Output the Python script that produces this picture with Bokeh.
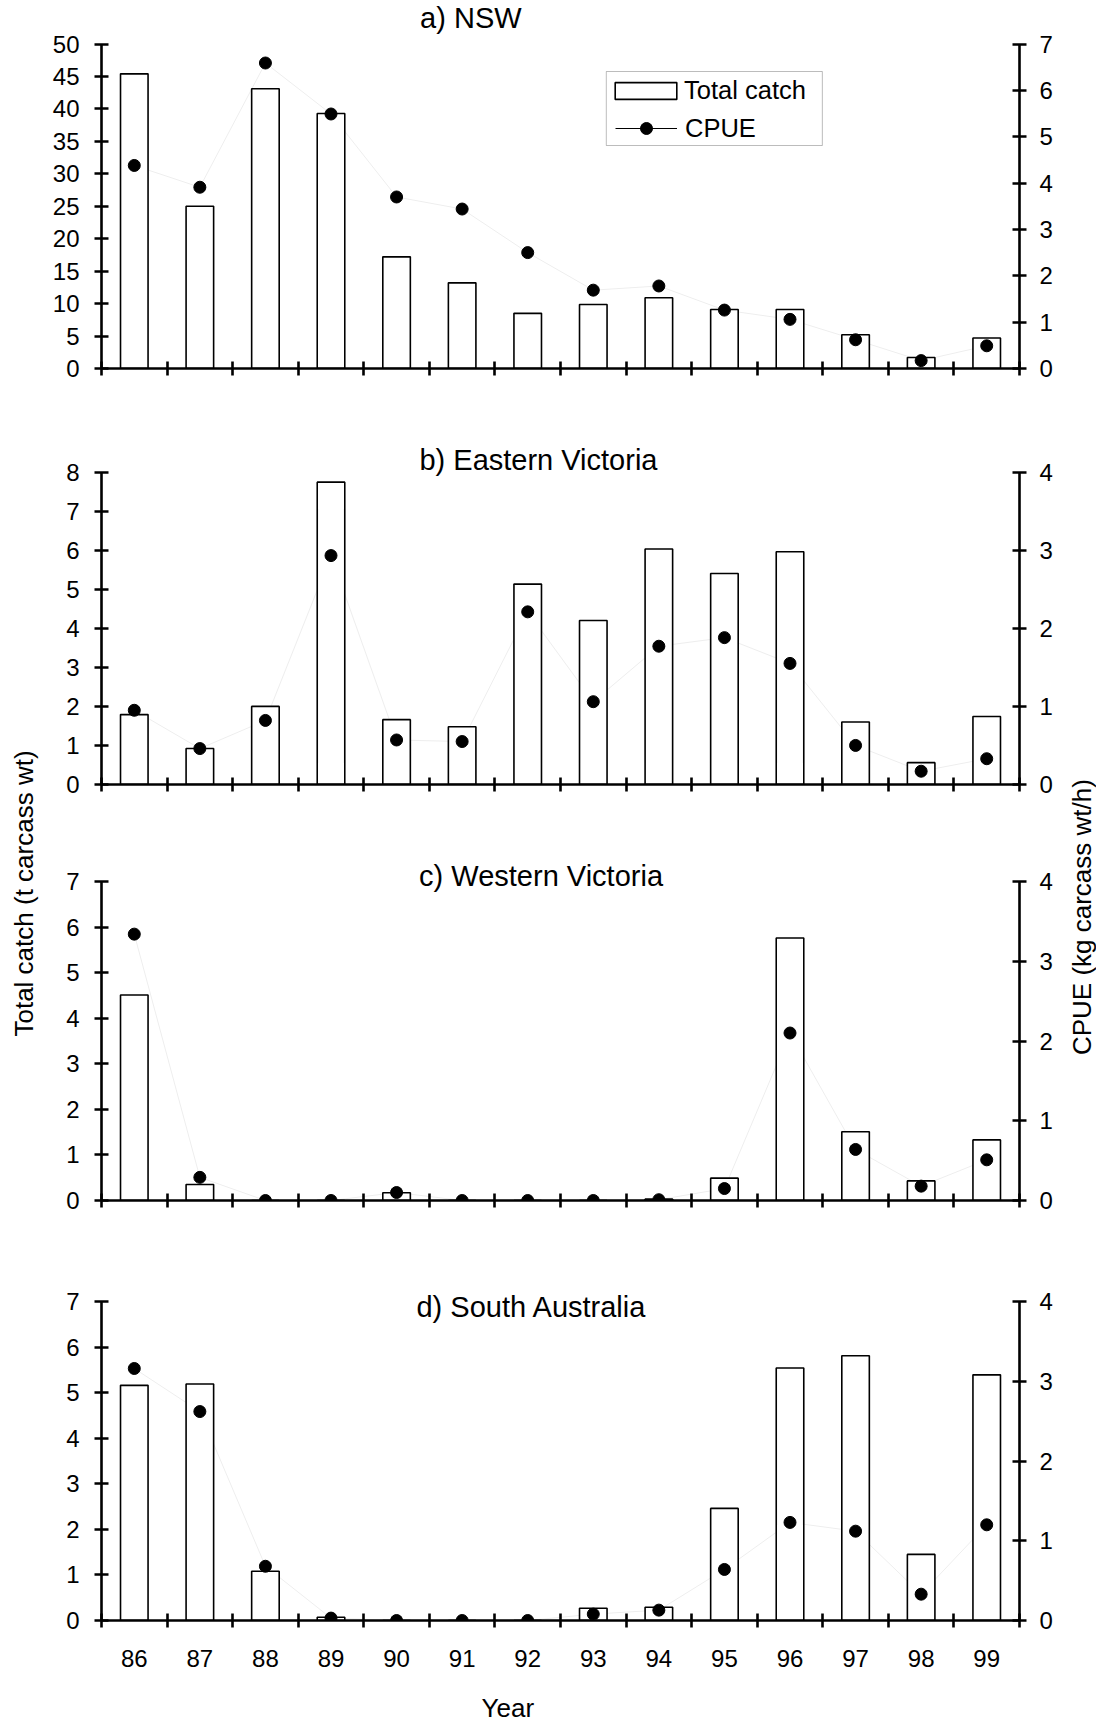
import math
from bokeh.plotting import figure
from bokeh.models import (Range1d, LinearAxis, FixedTicker, Label, Legend, LegendItem,
                          BoxAnnotation)
from bokeh.layouts import row, column
from bokeh.embed import file_html
from bokeh.resources import INLINE

# ---------------- data ----------------
years = [86, 87, 88, 89, 90, 91, 92, 93, 94, 95, 96, 97, 98, 99]

nsw_catch = [45.4, 25.0, 43.1, 39.3, 17.2, 13.2, 8.5, 9.85, 10.9, 9.1, 9.1, 5.2, 1.7, 4.7]
nsw_cpue = [4.38, 3.91, 6.59, 5.49, 3.70, 3.44, 2.50, 1.69, 1.78, 1.26, 1.06, 0.62, 0.17, 0.49]

evic_catch = [1.79, 0.92, 2.0, 7.74, 1.66, 1.48, 5.13, 4.20, 6.03, 5.40, 5.96, 1.60, 0.56, 1.74]
evic_cpue = [0.95, 0.46, 0.82, 2.93, 0.57, 0.55, 2.21, 1.06, 1.77, 1.88, 1.55, 0.50, 0.17, 0.33]

wvic_catch = [4.51, 0.35, 0.0, 0.0, 0.17, 0.0, 0.0, 0.0, 0.03, 0.49, 5.76, 1.51, 0.43, 1.33]
wvic_cpue = [3.34, 0.29, 0.0, 0.0, 0.10, 0.0, 0.0, 0.0, 0.01, 0.15, 2.10, 0.64, 0.18, 0.51]

sa_catch = [5.16, 5.19, 1.08, 0.07, 0.0, 0.0, 0.0, 0.27, 0.29, 2.46, 5.54, 5.81, 1.45, 5.39]
sa_cpue = [3.16, 2.62, 0.68, 0.03, 0.0, 0.0, 0.0, 0.08, 0.13, 0.64, 1.23, 1.12, 0.33, 1.20]

titles = ["a) NSW", "b) Eastern Victoria", "c) Western Victoria", "d) South Australia"]
left_label = "Total catch (t carcass wt)"
right_label = "CPUE (kg  carcass wt/h)"
x_label = "Year"
legend_labels = ["Total catch", "CPUE"]

# ---------------- styling / layout ----------------
FONT = "Liberation Sans"
TICK_FS = "24px"
TITLE_FS = "29px"
LABEL_FS = "26px"
LEGEND_FS = "25.5px"
TOTAL_W, TOTAL_H = 1096, 1724
LEFT_W, RIGHT_W = 40, 28
PANEL_W = TOTAL_W - LEFT_W - RIGHT_W
YEAR_H = 44
AX_W = 2.6
N = len(years)


def style_axis(ax, standoff):
    ax.axis_line_width = AX_W
    ax.axis_line_color = "black"
    ax.major_tick_line_width = AX_W
    ax.major_tick_line_color = "black"
    ax.major_tick_in = 7
    ax.major_tick_out = 7
    ax.minor_tick_line_color = None
    ax.major_label_text_font = FONT
    ax.major_label_text_font_size = TICK_FS
    ax.major_label_text_color = "black"
    ax.major_label_standoff = standoff
    ax.axis_label_standoff = 0


def panel(idx, catch, cpue, ymax, ystep, y2max, canvas_top, canvas_bottom,
          frame_left, frame_right, top_tick, zero_px, title_center, show_x=False, legend=False):
    height = canvas_bottom - canvas_top
    b_left = frame_left - LEFT_W
    b_right = (LEFT_W + PANEL_W) - frame_right
    b_bottom = canvas_bottom - zero_px
    ratio = (zero_px - canvas_top) / (zero_px - top_tick)
    p = figure(width=PANEL_W, height=height,
               x_range=Range1d(years[0] - 0.5, years[-1] + 0.5),
               y_range=Range1d(0, ymax * ratio),
               toolbar_location=None, output_backend="svg",
               min_border_left=b_left, min_border_right=b_right,
               min_border_top=0, min_border_bottom=b_bottom)
    p.extra_y_ranges = {"cpue": Range1d(0, y2max * ratio)}
    p.outline_line_color = None
    p.xgrid.visible = False
    p.ygrid.visible = False
    p.background_fill_color = "white"
    p.border_fill_color = "white"

    p.line(years, cpue, y_range_name="cpue", line_color="#eeeeee", line_width=1)
    bar_r = p.vbar(x=years, top=catch, width=0.42, fill_color="white",
                   line_color="black", line_width=1.6)
    dot_r = p.scatter(years, cpue, y_range_name="cpue", size=12,
                      fill_color="black", line_color="black")

    # left axis
    ly = p.yaxis[0]
    ly.ticker = FixedTicker(ticks=list(range(0, ymax + 1, ystep)))
    ly.bounds = (0, ymax)
    style_axis(ly, 15)

    # right axis
    ry = LinearAxis(y_range_name="cpue", ticker=FixedTicker(ticks=list(range(0, y2max + 1))))
    ry.bounds = (0, y2max)
    style_axis(ry, 13)
    p.add_layout(ry, "right")

    # x axis: labels at centres, ticks at category boundaries
    xa = p.xaxis[0]
    xa.ticker = FixedTicker(ticks=years if show_x else [],
                            minor_ticks=[y - 0.5 for y in years] + [years[-1] + 0.5])
    xa.axis_line_width = AX_W
    xa.axis_line_color = "black"
    xa.major_tick_in = 0
    xa.major_tick_out = 0
    xa.minor_tick_in = 7
    xa.minor_tick_out = 7
    xa.minor_tick_line_width = AX_W
    xa.minor_tick_line_color = "black"
    xa.major_label_text_font = FONT
    xa.major_label_text_font_size = TICK_FS
    xa.major_label_text_color = "black"
    xa.major_label_standoff = 22

    cat_w = (frame_right - frame_left) / N

    def xdata(px_abs):
        return years[0] - 0.5 + (px_abs - frame_left) / cat_w

    def ydata(px_abs):
        return (zero_px - px_abs) * ymax / (zero_px - top_tick)

    p.add_layout(Label(x=xdata(417), y=ydata(title_center), text=titles[idx],
                       text_font=FONT, text_font_size=TITLE_FS, text_color="black",
                       text_align="left", text_baseline="middle"))

    if legend:
        # legend frame
        p.add_layout(BoxAnnotation(left=xdata(604), right=xdata(821),
                                   top=ydata(71), bottom=ydata(145),
                                   fill_color="white", fill_alpha=1,
                                   line_color="#222222", line_width=1))
        dummy = p.line([years[0]], [-10], line_color="black", line_width=1)
        common = dict(label_text_font=FONT, label_text_font_size=LEGEND_FS,
                      label_text_color="black", padding=0, margin=0,
                      border_line_color=None, background_fill_alpha=0,
                      label_height=26)
        lg1 = Legend(items=[LegendItem(label=legend_labels[0], renderers=[bar_r])],
                     location=(603 - frame_left, zero_px - 104.8),
                     glyph_width=77, glyph_height=21, label_standoff=0, **common)
        lg2 = Legend(items=[LegendItem(label=legend_labels[1], renderers=[dummy, dot_r])],
                     location=(611 - frame_left, zero_px - 143.3),
                     glyph_width=62, glyph_height=30, label_standoff=8, **common)
        p.add_layout(lg1, "center")
        p.add_layout(lg2, "center")
    return p


#            idx data                      ymax step y2  top   bottom  fl   fr    tick    zero  title
pa = panel(0, nsw_catch, nsw_cpue, 50, 5, 7, 0, 420, 97, 1019, 43.5, 368, 17, legend=True)
pb = panel(1, evic_catch, evic_cpue, 8, 1, 4, 420, 832, 98, 1019, 471.5, 784, 459.5)
pc = panel(2, wvic_catch, wvic_cpue, 7, 1, 4, 832, 1250, 98, 1020, 881, 1200, 875)
pd = panel(3, sa_catch, sa_cpue, 7, 1, 4, 1250, TOTAL_H - YEAR_H, 101, 1022, 1301, 1620, 1306.5,
           show_x=True)


def blank_fig(w, h):
    f = figure(width=w, height=h, x_range=Range1d(0, w), y_range=Range1d(0, h),
               toolbar_location=None, output_backend="svg", min_border=0,
               x_axis_type=None, y_axis_type=None)
    f.outline_line_color = None
    f.background_fill_color = "white"
    f.border_fill_color = "white"
    return f


lf = blank_fig(LEFT_W, TOTAL_H)
lf.add_layout(Label(x=23.5, y=TOTAL_H - 893, text=left_label, angle=math.pi / 2,
                    text_font=FONT, text_font_size=LABEL_FS, text_color="black",
                    text_align="center", text_baseline="middle"))
rf = blank_fig(RIGHT_W, TOTAL_H)
rf.add_layout(Label(x=1081 - (TOTAL_W - RIGHT_W), y=TOTAL_H - 913, text=right_label,
                    angle=math.pi / 2, text_font=FONT, text_font_size=LABEL_FS,
                    text_color="black", text_align="center", text_baseline="middle"))
yf = blank_fig(PANEL_W, YEAR_H)
yf.add_layout(Label(x=455, y=TOTAL_H - 1707, text=x_label,
                    text_font=FONT, text_font_size=LABEL_FS, text_color="black",
                    text_align="center", text_baseline="middle"))

layout = row(lf, column(pa, pb, pc, pd, yf), rf)

with open("out.html", "w") as fh_:
    fh_.write(file_html(layout, INLINE))
